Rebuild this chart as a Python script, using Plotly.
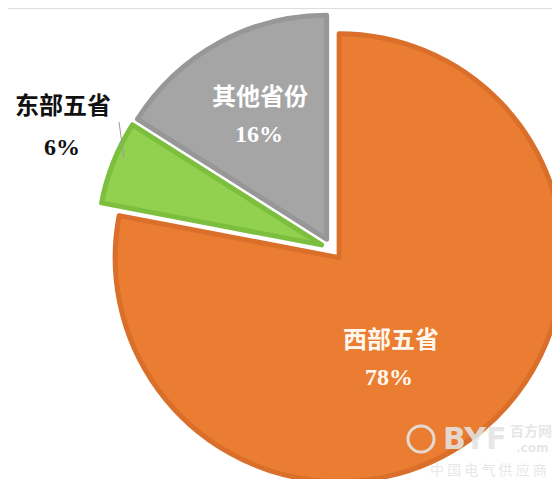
import plotly.graph_objects as go

# ---- data ----
labels = ["西部五省", "东部五省", "其他省份"]
values = [78, 6, 16]
percent_text = ["78%", "6%", "16%"]

fill_colors = ["#EB7D32", "#92D050", "#A5A5A5"]
edge_colors = ["#D96F2A", "#7CBF3F", "#979797"]

W, H = 560, 479

def px(x):
    return x / W

def py(y):
    return 1 - y / H

def clamp(v):
    return min(1.0, max(0.0, v))

# pie geometry (pixels)
cx, cy, R, pull = 324, 241, 224, 0.05
half = R * (1 + pull)

fig = go.Figure(go.Pie(
    labels=labels,
    values=values,
    sort=False,
    direction="clockwise",
    rotation=0,
    pull=[pull] * len(values),
    textinfo="none",
    hoverinfo="label+percent",
    marker=dict(colors=fill_colors, line=dict(color=edge_colors, width=5)),
    domain=dict(x=[clamp(px(cx - half)), clamp(px(cx + half))],
                y=[clamp(py(cy + half)), clamp(py(cy - half))]),
))

cn_font = "Noto Sans CJK SC"
num_font = "Liberation Serif"

label_pos = {
    "西部五省": ((383, 329), (381, 369), "#FFF8EE"),
    "其他省份": ((252, 86), (251, 126), "#FFFFFF"),
    "东部五省": ((55, 96), (54, 139), "#111111"),
}

annotations = []
for lab, pct in zip(labels, percent_text):
    (lx, ly), (nx, ny), col = label_pos[lab]
    annotations.append(dict(
        x=px(lx), y=py(ly), xref="paper", yref="paper", showarrow=False,
        text=f"<b>{lab}</b>", xanchor="center", yanchor="middle",
        font=dict(family=cn_font, size=24, color=col)))
    annotations.append(dict(
        x=px(nx), y=py(ny), xref="paper", yref="paper", showarrow=False,
        text=f"<b>{pct}</b>", xanchor="center", yanchor="middle",
        font=dict(family=num_font, size=24, color=col)))

# watermark
wm = "rgba(228,228,228,0.9)"
annotations += [
    dict(x=px(466), y=py(430), xref="paper", yref="paper", showarrow=False,
         text="<b>BYF</b>", xanchor="center", yanchor="middle",
         font=dict(family="DejaVu Sans", size=30, color=wm)),
    dict(x=px(523), y=py(422), xref="paper", yref="paper", showarrow=False,
         text="<b>百方网</b>", xanchor="center", yanchor="middle",
         font=dict(family=cn_font, size=14, color=wm)),
    dict(x=px(524), y=py(440), xref="paper", yref="paper", showarrow=False,
         text="<b>.com</b>", xanchor="center", yanchor="middle",
         font=dict(family="DejaVu Sans", size=12, color=wm)),
    dict(x=px(481), y=py(461), xref="paper", yref="paper", showarrow=False,
         text="中 国 电 气 供 应 商", xanchor="center", yanchor="middle",
         font=dict(family=cn_font, size=14, color=wm)),
]

shapes = [
    # leader line for the small slice label
    dict(type="line", xref="paper", yref="paper",
         x0=px(111), y0=py(114), x1=px(116), y1=py(150),
         line=dict(color="#9A9A9A", width=1)),
    # watermark logo ring
    dict(type="circle", xref="paper", yref="paper",
         x0=px(400), y0=py(444), x1=px(426), y1=py(418),
         line=dict(color=wm, width=3)),
    # thin top border line
    dict(type="line", xref="paper", yref="paper",
         x0=0, y0=py(0.5), x1=1, y1=py(0.5),
         line=dict(color="#DDDDDD", width=1)),
]

fig.update_layout(
    width=W, height=H,
    margin=dict(l=0, r=0, t=0, b=0),
    paper_bgcolor="white",
    plot_bgcolor="white",
    showlegend=False,
    annotations=annotations,
    shapes=shapes,
)

fig.write_html("out.html")
